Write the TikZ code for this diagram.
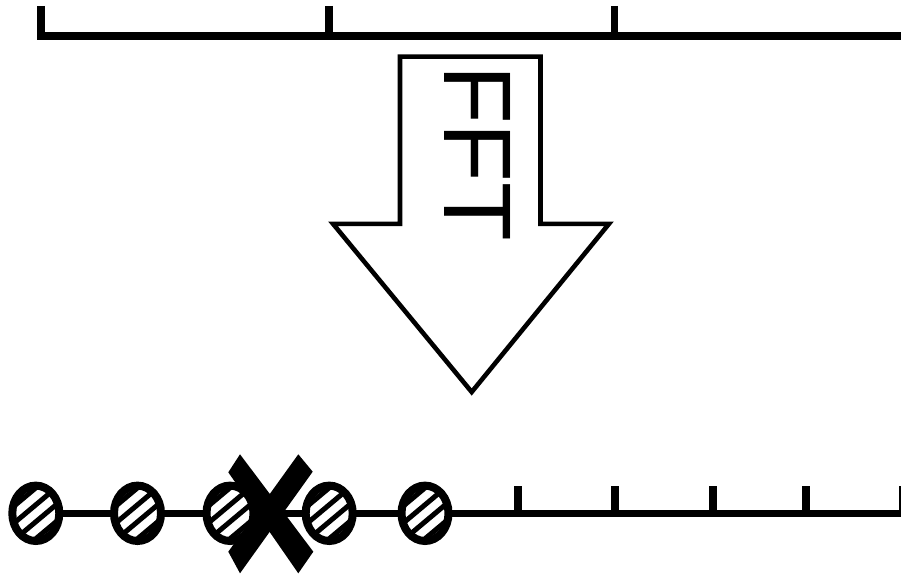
\documentclass[tikz,border=0pt]{standalone}
\usepackage{fontspec}
\setmainfont{Liberation Sans}
\begin{document}
\begin{tikzpicture}[x=1pt,y=-1pt,
  axisline/.style={line width=7.6pt,line join=miter},
  ticklinetop/.style={line width=7.7pt},
  ticklinebot/.style={line width=8pt},
  arrowshape/.style={draw=black,fill=white,line width=4.6pt,line join=miter},
  dotoutline/.style={draw=black,line width=8pt},
  stripe/.style={line width=5pt,black},
  crossmark/.style={fill=black}]
\useasboundingbox (0,0) rectangle (901,575);
\fill[white] (0,0) rectangle (901,575);

% ---- top axis ----
\coordinate (t0) at (41.2,6);
\coordinate (tc) at (41.2,36.2);
\coordinate (tend) at (906,36.2);
\draw[axisline] (t0) -- (tc) -- (tend);
\foreach \x/\n in {329.2/a,614.5/b}{
  \coordinate (tt\n) at (\x,6);
  \coordinate (tb\n) at (\x,36.2);
  \draw[ticklinetop] (tt\n) -- (tb\n);
}

% ---- FFT arrow ----
\draw[arrowshape] (400,56.7) -- (540.5,56.7) -- (540.5,223.8) -- (609,223.8)
   -- (471.7,392) -- (333,223.8) -- (400,223.8) -- cycle;
\node[rotate=-90,inner sep=0pt,font=\fontsize{96}{96}\selectfont] (fft) at (477.5,153) {FFT};

% ---- bottom axis ----
\coordinate (b0) at (35.8,513.5);
\coordinate (bend) at (906,513.5);
\draw[axisline] (b0) -- (bend);
\foreach \x/\n in {518/a,615/b,713/c,806/d,903/e}{
  \coordinate (bt\n) at (\x,486);
  \coordinate (bb\n) at (\x,513.5);
  \draw[ticklinebot] (bt\n) -- (bb\n);
}

% ---- hatched dots ----
\foreach \cx/\n in {35.8/1,137.5/2,230/3,329.2/4,425/5}{
  \coordinate (c\n) at (\cx,513.3);
  \begin{scope}
    \fill[white] (c\n) ellipse [x radius=23.5, y radius=27.7];
    \clip (c\n) ellipse [x radius=23.5, y radius=27.7];
    \begin{scope}[shift={(c\n)}]
      \foreach \d in {-45.5,-32.5,...,45.5}{
        \draw[stripe] ({\d*0.643-38.3},{\d*0.766+32.1}) -- ({\d*0.643+38.3},{\d*0.766-32.1});
      }
    \end{scope}
  \end{scope}
  \draw[dotoutline] (c\n) ellipse [x radius=23.5, y radius=27.7];
}

% ---- cross ----
\fill[crossmark] (240,454.3) -- (313.3,551.7) -- (298.3,573.3) -- (228.3,472.3) -- cycle;
\fill[crossmark] (298.3,454.3) -- (312.7,471.7) -- (240,573.3) -- (228.3,551.7) -- cycle;
\end{tikzpicture}
\end{document}
